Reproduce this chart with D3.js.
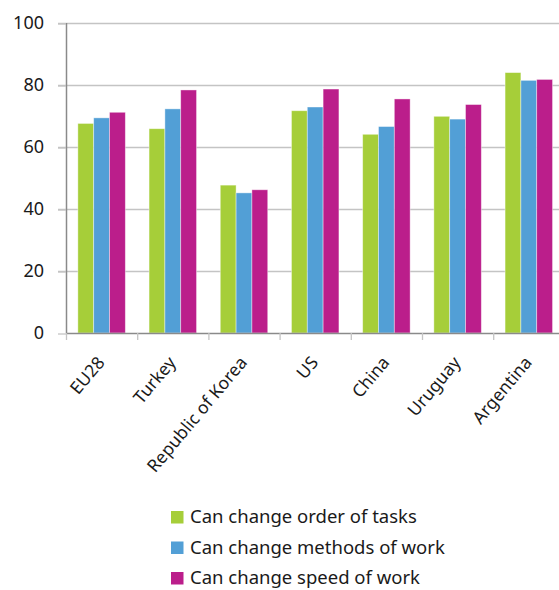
<!DOCTYPE html>
<html><head><meta charset="utf-8">
<script src="https://cdn.jsdelivr.net/npm/d3@7"></script>
<style>body{margin:0;background:#fff;overflow:hidden}svg{display:block}</style>
</head><body>
<script>
const categories = ["EU28","Turkey","Republic of Korea","US","China","Uruguay","Argentina"];
const seriesNames = ["Can change order of tasks","Can change methods of work","Can change speed of work"];
const orderOfTasks = [67.6,65.9,47.7,71.7,64.1,69.9,84.0];
const methodsOfWork = [69.4,72.3,45.2,72.9,66.6,69.0,81.5];
const speedOfWork = [71.2,78.4,46.2,78.7,75.5,73.7,81.8];
const yTicks = [0,20,40,60,80,100];
const colors = ["#a6ce39","#529fd6","#bb1e8b"];
const seriesValues = [orderOfTasks, methodsOfWork, speedOfWork];

(function(){
const W = 559, H = 590;
const svg = d3.select("body").append("svg").attr("width", W).attr("height", H);
const font = "'Noto Sans', 'Open Sans', sans-serif";

const x0 = 66, bandW = 71.2, plotTop = 23, plotBottom = 333;
const x = d3.scaleBand().domain(categories).range([x0, x0 + bandW * categories.length]).paddingInner(0).paddingOuter(0);
const xs = d3.scaleBand().domain(seriesNames).range([0, x.bandwidth()]).paddingInner(0).paddingOuter(0.75);
const y = d3.scaleLinear().domain([0,100]).range([plotBottom, plotTop]);

// gridlines
svg.append("g").selectAll("line").data(yTicks.filter(d=>d>0)).join("line")
  .attr("x1", 58).attr("x2", W).attr("y1", d=>y(d)+0.5).attr("y2", d=>y(d)+0.5)
  .attr("stroke", "#c4c4c4").attr("stroke-width", 1.3);

// y axis
const yAxis = svg.append("g").attr("transform", `translate(${x0},0)`)
  .call(d3.axisLeft(y).tickValues(yTicks).tickSize(8).tickPadding(14));
yAxis.select(".domain").attr("stroke", "#8a8a8a").attr("stroke-width", 1.5).attr("d", `M0.5,${plotTop}V${plotBottom}`);
yAxis.selectAll(".tick line").attr("stroke", "#c4c4c4").attr("stroke-width", 1.3).attr("transform", "translate(0,0.5)");
yAxis.selectAll("text").attr("font-family", font).attr("font-size", 18).attr("fill", "#1a1a1a");

// bars
const groups = svg.append("g").selectAll("g").data(categories).join("g")
  .attr("transform", d => `translate(${x(d)},0)`);
groups.selectAll("rect").data((c,i) => seriesNames.map((s,j) => ({s, v: seriesValues[j][i], j})))
  .join("rect")
  .attr("x", d => xs(d.s)).attr("width", xs.bandwidth())
  .attr("y", d => y(d.v)).attr("height", d => y(0) - y(d.v))
  .attr("fill", d => colors[d.j])
  .attr("stroke", "rgba(255,255,255,0.5)").attr("stroke-width", 0.8);

// x axis
const xAxis = svg.append("g").attr("transform", `translate(0,${plotBottom})`)
  .call(d3.axisBottom(x).tickSize(0).tickPadding(0));
xAxis.select(".domain").attr("stroke", "#8a8a8a").attr("stroke-width", 1.5).attr("d", `M${x0},0.5H${W}`);
// category boundary ticks
svg.append("g").selectAll("line").data(d3.range(categories.length + 1)).join("line")
  .attr("x1", i => x0 + i*bandW + 0.5).attr("x2", i => x0 + i*bandW + 0.5)
  .attr("y1", plotBottom).attr("y2", plotBottom + 7)
  .attr("stroke", "#c4c4c4").attr("stroke-width", 1.3);
xAxis.selectAll("text")
  .attr("font-family", font).attr("font-size", 17.5).attr("fill", "#1a1a1a")
  .attr("text-anchor", "end")
  .attr("transform", "translate(4,30) rotate(-50)")
  .attr("dy", "0").attr("y", 0).attr("x", 0);

// legend
const leg = svg.append("g").attr("transform", "translate(171,517)");
const li = leg.selectAll("g").data(seriesNames).join("g").attr("transform", (d,i) => `translate(0,${i*30.5})`);
li.append("rect").attr("x", 0).attr("y", -6).attr("width", 12.5).attr("height", 12.5).attr("fill", (d,i) => colors[i]);
li.append("text").attr("x", 19).attr("y", 0).attr("dy", "0.35em")
  .attr("font-family", font).attr("font-size", 18.5).attr("fill", "#1a1a1a").text(d => d);
})();
</script>
</body></html>
